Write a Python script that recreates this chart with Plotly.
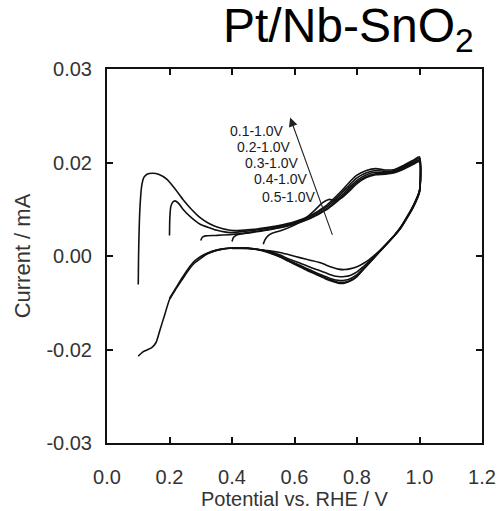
import plotly.graph_objects as go

# Cyclic voltammograms of Pt/Nb-SnO2 with different lower potential limits.
# Each curve: anodic sweep (lower limit -> 1.0 V) followed by the cathodic sweep back.

# 0.1-1.0 V
v1_an = [0.100, 0.101, 0.103, 0.106, 0.111, 0.118, 0.128, 0.145, 0.165, 0.192, 0.215, 0.243,
         0.270, 0.298, 0.325, 0.352, 0.394, 0.43, 0.47, 0.50, 0.55, 0.60, 0.65, 0.70, 0.72,
         0.75, 0.78, 0.80, 0.83, 0.86, 0.89, 0.92, 0.95, 0.98, 1.00]
i1_an = [-0.0061, 0.0000, 0.0060, 0.0110, 0.0150, 0.0168, 0.0175, 0.0177, 0.0175, 0.0164, 0.0146, 0.0121,
         0.0100, 0.0082, 0.0070, 0.0062, 0.0055, 0.0055, 0.0057, 0.0060, 0.0065, 0.0073, 0.0086, 0.0107, 0.0119,
         0.0139, 0.0161, 0.0173, 0.0183, 0.0187, 0.0184, 0.0185, 0.0194, 0.0205, 0.0212]
v1_ca = [1.00, 0.98, 0.96, 0.94, 0.92, 0.90, 0.87, 0.84, 0.82, 0.80, 0.78, 0.76, 0.74, 0.72,
         0.70, 0.68, 0.65, 0.62, 0.58, 0.55, 0.50, 0.45, 0.40, 0.35, 0.32, 0.30, 0.28, 0.26,
         0.24, 0.22, 0.20, 0.185, 0.17, 0.157, 0.143, 0.128, 0.115, 0.100]
i1_ca = [0.0140, 0.0108, 0.0084, 0.0062, 0.0045, 0.0030, 0.0008, -0.0014, -0.0029, -0.0044, -0.0053, -0.0058, -0.0058, -0.0054,
         -0.0049, -0.0043, -0.0034, -0.0024, -0.0011, -0.0001, 0.0011, 0.0016, 0.0017, 0.0012, 0.0004, -0.0005, -0.0015, -0.0031,
         -0.0051, -0.0071, -0.0093, -0.0125, -0.0157, -0.0185, -0.0196, -0.0201, -0.0205, -0.0214]

# 0.2-1.0 V
v2_an = [0.200, 0.201, 0.204, 0.210, 0.218, 0.230, 0.243, 0.270, 0.298, 0.330, 0.352, 0.394,
         0.43, 0.47, 0.50, 0.55, 0.60, 0.65, 0.70, 0.72, 0.75, 0.78, 0.80, 0.83, 0.86, 0.89,
         0.92, 0.95, 0.98, 1.00]
i2_an = [0.0044, 0.0080, 0.0105, 0.0115, 0.0118, 0.0112, 0.0100, 0.0082, 0.0068, 0.0060, 0.0055, 0.0050,
         0.0052, 0.0055, 0.0058, 0.0063, 0.0071, 0.0084, 0.0104, 0.0115, 0.0134, 0.0155, 0.0167, 0.0178, 0.0183, 0.0181,
         0.0183, 0.0192, 0.0203, 0.0209]
v2_ca = [1.00, 0.98, 0.96, 0.94, 0.92, 0.90, 0.87, 0.84, 0.82, 0.80, 0.78, 0.76, 0.74, 0.72,
         0.70, 0.68, 0.65, 0.62, 0.58, 0.55, 0.50, 0.45, 0.40, 0.35, 0.32, 0.30, 0.28, 0.26,
         0.24, 0.22, 0.20]
i2_ca = [0.0140, 0.0107, 0.0083, 0.0061, 0.0044, 0.0029, 0.0007, -0.0015, -0.0029, -0.0043, -0.0052, -0.0056, -0.0056, -0.0052,
         -0.0047, -0.0041, -0.0032, -0.0022, -0.0010, 0.0000, 0.0012, 0.0017, 0.0017, 0.0013, 0.0006, -0.0001, -0.0011, -0.0027,
         -0.0047, -0.0069, -0.0091]

# 0.3-1.0 V
v3_an = [0.300, 0.305, 0.315, 0.35, 0.40, 0.45, 0.50, 0.55, 0.60, 0.65, 0.70, 0.72, 0.75,
         0.78, 0.80, 0.83, 0.86, 0.89, 0.92, 0.95, 0.98, 1.00]
i3_an = [0.0033, 0.0040, 0.0043, 0.0044, 0.0046, 0.0050, 0.0055, 0.0061, 0.0069, 0.0081, 0.0100, 0.0111, 0.0129,
         0.0150, 0.0162, 0.0174, 0.0179, 0.0178, 0.0181, 0.0190, 0.0200, 0.0206]
v3_ca = [1.00, 0.98, 0.96, 0.94, 0.92, 0.90, 0.87, 0.84, 0.82, 0.80, 0.78, 0.76, 0.74, 0.72,
         0.70, 0.68, 0.65, 0.62, 0.58, 0.55, 0.50, 0.45, 0.40, 0.35, 0.32, 0.30]
i3_ca = [0.0139, 0.0106, 0.0082, 0.0061, 0.0044, 0.0029, 0.0008, -0.0013, -0.0027, -0.0040, -0.0048, -0.0052, -0.0052, -0.0049,
         -0.0044, -0.0039, -0.0030, -0.0021, -0.0009, 0.0001, 0.0012, 0.0017, 0.0017, 0.0012, 0.0005, -0.0003]

# 0.4-1.0 V
v4_an = [0.400, 0.405, 0.415, 0.44, 0.47, 0.50, 0.55, 0.60, 0.65, 0.70, 0.72, 0.75, 0.78,
         0.80, 0.83, 0.86, 0.89, 0.92, 0.95, 0.98, 1.00]
i4_an = [0.0031, 0.0040, 0.0045, 0.0048, 0.0051, 0.0054, 0.0060, 0.0068, 0.0080, 0.0098, 0.0108, 0.0125, 0.0146,
         0.0158, 0.0170, 0.0176, 0.0176, 0.0179, 0.0188, 0.0198, 0.0204]
v4_ca = [1.00, 0.98, 0.96, 0.94, 0.92, 0.90, 0.87, 0.84, 0.82, 0.80, 0.78, 0.76, 0.74, 0.72,
         0.70, 0.68, 0.65, 0.62, 0.58, 0.55, 0.50, 0.45, 0.40]
i4_ca = [0.0138, 0.0105, 0.0082, 0.0060, 0.0044, 0.0030, 0.0009, -0.0011, -0.0023, -0.0034, -0.0041, -0.0044, -0.0044, -0.0041,
         -0.0036, -0.0031, -0.0024, -0.0016, -0.0006, 0.0003, 0.0012, 0.0016, 0.0016]

# 0.5-1.0 V
v5_an = [0.500, 0.505, 0.515, 0.53, 0.56, 0.60, 0.63, 0.66, 0.69, 0.71, 0.73, 0.75, 0.78,
         0.80, 0.83, 0.86, 0.89, 0.92, 0.95, 0.98, 1.00]
i5_an = [0.0025, 0.0034, 0.0043, 0.0049, 0.0055, 0.0066, 0.0078, 0.0095, 0.0114, 0.0121, 0.0119, 0.0124, 0.0142,
         0.0155, 0.0168, 0.0174, 0.0175, 0.0178, 0.0186, 0.0196, 0.0202]
v5_ca = [1.00, 0.98, 0.96, 0.94, 0.92, 0.90, 0.87, 0.84, 0.82, 0.80, 0.78, 0.76, 0.74, 0.72,
         0.70, 0.68, 0.65, 0.62, 0.58, 0.55, 0.52, 0.50]
i5_ca = [0.0136, 0.0104, 0.0081, 0.0060, 0.0044, 0.0030, 0.0010, -0.0007, -0.0016, -0.0023, -0.0027, -0.0029, -0.0028, -0.0024,
         -0.0019, -0.0014, -0.0009, -0.0004, 0.0003, 0.0008, 0.0011, 0.0012]

curves = [
    (v1_an + v1_ca, i1_an + i1_ca),
    (v2_an + v2_ca, i2_an + i2_ca),
    (v3_an + v3_ca, i3_an + i3_ca),
    (v4_an + v4_ca, i4_an + i4_ca),
    (v5_an + v5_ca, i5_an + i5_ca),
]

range_labels = ["0.1-1.0V", "0.2-1.0V", "0.3-1.0V", "0.4-1.0V", "0.5-1.0V"]
label_v = [0.387, 0.410, 0.435, 0.464, 0.490]
label_i = [0.0268, 0.0234, 0.0198, 0.0164, 0.0127]

x_ticks = [0.0, 0.2, 0.4, 0.6, 0.8, 1.0, 1.2]
x_ticktext = ["0.0", "0.2", "0.4", "0.6", "0.8", "1.0", "1.2"]
y_ticks = [-0.04, -0.02, 0.0, 0.02, 0.04]
y_ticktext = ["-0.03", "-0.02", "0.00", "0.02", "0.03"]

FONT = "Liberation Sans, Arial, sans-serif"

fig = go.Figure()
for v, i in curves:
    fig.add_trace(go.Scatter(x=v, y=i, mode="lines",
                             line=dict(color="#111111", width=1.6, shape="spline", smoothing=0.6),
                             showlegend=False, hoverinfo="skip"))

# Range labels
for txt, lv, li in zip(range_labels, label_v, label_i):
    fig.add_annotation(x=lv, y=li, xref="x", yref="y", text=txt, showarrow=False,
                       xanchor="left", yanchor="middle",
                       font=dict(family=FONT, size=14, color="#1a1a1a"))

# Arrow indicating increasing lower limit direction
fig.add_annotation(x=0.586, y=0.0296, ax=0.723, ay=0.0042, xref="x", yref="y",
                   axref="x", ayref="y", text="", showarrow=True,
                   arrowhead=2, arrowsize=1.6, arrowwidth=1.1, arrowcolor="#222222")

# Title
fig.add_annotation(x=0.985, y=1.022, xref="paper", yref="paper",
                   text="Pt/Nb-SnO<sub>2</sub>", showarrow=False,
                   xanchor="right", yanchor="bottom",
                   font=dict(family=FONT, size=48, color="#000000"))

# x-axis title, sitting on the bottom edge of the figure
fig.add_annotation(x=0.5, y=-0.1818, xref="paper", yref="paper",
                   text="Potential vs. RHE / V", showarrow=False, borderpad=0,
                   xanchor="center", yanchor="bottom",
                   font=dict(family=FONT, size=20, color="#333333"))

axis_common = dict(showline=True, linecolor="#111111", linewidth=2, mirror="ticks",
                   ticks="inside", ticklen=6, tickwidth=2, tickcolor="#111111",
                   showgrid=False, zeroline=False, automargin=False)

fig.update_xaxes(range=[0.0, 1.2], tickvals=x_ticks, ticktext=x_ticktext,
                 ticklabelstandoff=15,
                 tickfont=dict(family=FONT, size=20, color="#333333"),
                 **axis_common)
fig.update_yaxes(range=[-0.04, 0.04], tickvals=y_ticks, ticktext=y_ticktext,
                 ticklabelstandoff=9,
                 tickfont=dict(family=FONT, size=20, color="#333333"),
                 title=dict(text="Current / mA", standoff=10,
                            font=dict(family=FONT, size=22, color="#333333")),
                 **axis_common)

fig.update_layout(width=501, height=511, plot_bgcolor="white", paper_bgcolor="white",
                  margin=dict(l=107, r=19, t=69, b=68))

fig.write_html("out.html")
